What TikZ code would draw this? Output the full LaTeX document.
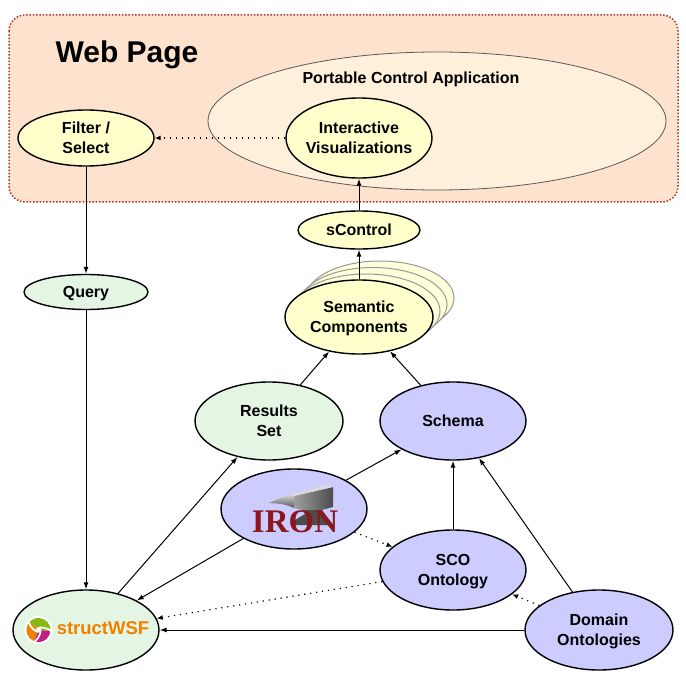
\documentclass[tikz,border=0pt]{standalone}
\usepackage{fontspec}
\setmainfont{Liberation Sans}
\newfontfamily\ironfont{Liberation Serif}
\usetikzlibrary{shapes.geometric,arrows.meta}

\definecolor{pagefill}{RGB}{253,226,205}
\definecolor{pageline}{RGB}{178,50,50}
\definecolor{appfill}{RGB}{254,240,218}
\definecolor{yel}{RGB}{255,255,204}
\definecolor{yelback}{RGB}{255,255,218}
\definecolor{grn}{RGB}{228,245,228}
\definecolor{blu}{RGB}{204,204,255}
\definecolor{ironred}{RGB}{140,22,30}
\definecolor{wsforange}{RGB}{240,128,0}
\definecolor{wsfgreen}{RGB}{135,185,20}
\definecolor{wsfmag}{RGB}{190,30,130}

% two-line label, visually centred
\newcommand{\zl}[1]{\makebox[0pt]{\smash{\raisebox{-15.75pt}{\begin{tabular}[b]{@{}c@{}}#1\end{tabular}}}}}
% one-line label, visually centred
\newcommand{\zs}[1]{\makebox[0pt]{\smash{\raisebox{-5.75pt}{#1}}}}

\begin{document}
\begin{tikzpicture}[x=1pt,y=-1pt,
  every node/.style={font=\fontsize{16}{20}\selectfont\bfseries},
  ell/.style={ellipse,draw=black,line width=1.4pt,inner sep=0pt},
  backell/.style={ellipse,draw=gray!80,line width=1pt,fill=yelback,inner sep=0pt,minimum width=148pt,minimum height=74pt},
  arr/.style={-{Latex[length=7pt,width=5pt]},line width=1pt},
  dot/.style={-{Latex[length=6pt,width=5pt]},line width=1.2pt,dash pattern=on 1.2pt off 4.8pt}]

\useasboundingbox (0,0) rectangle (686,682);

% Web page area
\draw[fill=pagefill,draw=pageline,line width=1.5pt,dash pattern=on 1.5pt off 1.8pt,rounded corners=16pt] (9,15) rectangle (678,202);
\node[inner sep=0pt,font=\fontsize{30}{34}\selectfont\bfseries] (web) at (127,55) {Web Page};

% Portable control application
\node[ellipse,draw=gray!70!black,line width=0.8pt,fill=appfill,inner sep=0pt,minimum width=458pt,minimum height=138pt] (pca) at (437,121) {};
\node[inner sep=0pt] (pcalbl) at (411,79) {Portable Control Application};

\node[ell,fill=yel,minimum width=146pt,minimum height=80pt] (iv) at (359,138) {\zl{Interactive\\Visualizations}};
\node[ell,fill=yel,minimum width=136pt,minimum height=56pt] (fs) at (86,138) {\zl{Filter /\\Select}};

% sControl
\node[ell,fill=yel,minimum width=122pt,minimum height=38pt] (sc) at (359,230) {\zs{sControl}};

% Semantic components stack
\node[backell] (semb3) at (380,298) {};
\node[backell] (semb2) at (373,304.5) {};
\node[backell] (semb1) at (366,311) {};
\node[ell,fill=yel,minimum width=148pt,minimum height=74pt] (sem) at (359,317) {\zl{Semantic\\Components}};

% Query
\node[ell,fill=grn,minimum width=124pt,minimum height=35pt] (q) at (86,292) {\zs{Query}};

% Results set and schema
\node[ell,fill=grn,minimum width=148pt,minimum height=78pt] (rs) at (269,421) {\zl{Results\\Set}};
\node[ell,fill=blu,minimum width=146pt,minimum height=78pt] (sch) at (453,421) {\zs{Schema}};

% IRON
\node[ell,fill=blu,minimum width=146pt,minimum height=80pt] (iron) at (294,509) {};
% anvil: horn
\shade[top color=gray!30,bottom color=gray!70!black] (269,503) .. controls (278,499) .. (291,494) -- (294,497) -- (294,508) .. controls (284,504) .. (269,503) -- cycle;
% anvil: waist and base
\fill[gray!60!black] (302,509) -- (323,509) -- (320,514) -- (329,520) -- (329,525) -- (295,525) -- (295,520) -- (305,514) -- cycle;
% anvil: front face
\shade[left color=gray!75,right color=gray!60!black] (294,496) -- (333,487) -- (333,507) -- (322,510) -- (302,510) -- (294,508) -- cycle;
% anvil: top face
\fill[gray!30] (291,494) -- (327,485) -- (333,487) -- (294,496) -- cycle;
\fill[gray!85!black] (321,491) circle (0.9);
\node[inner sep=0pt,text=ironred,font=\ironfont\bfseries\fontsize{33}{33}\selectfont] (irontext) at (295,522) {IRON};

% SCO and domain
\node[ell,fill=blu,minimum width=146pt,minimum height=80pt] (sco) at (453,570) {\zl{SCO\\Ontology}};
\node[ell,fill=blu,minimum width=148pt,minimum height=80pt] (dom) at (599,630) {\zl{Domain\\Ontologies}};

% structWSF
\node[ell,fill=grn,minimum width=146pt,minimum height=80pt] (wsf) at (86,630) {};
\begin{scope}[shift={(38.5,630)},yscale=-1]
  \fill[white] (0,0) circle (14);
  \fill[wsfgreen] (0,0) -- (-5:12) arc[start angle=-5,end angle=140,radius=12] -- cycle;
  \fill[wsforange] (0,0) -- (140:12) arc[start angle=140,end angle=250,radius=12] -- cycle;
  \fill[wsfmag] (0,0) -- (250:12) arc[start angle=250,end angle=355,radius=12] -- cycle;
  \foreach \a in {-5,140,250}{
    \draw[white,line width=1.8pt] (\a+120:2) .. controls (\a+60:4) and (\a+20:9) .. (\a:13);
  }
  \fill[white] (0,0) circle (2.5);
\end{scope}
\node[inner sep=0pt,text=wsforange,font=\fontsize{18.5}{22}\selectfont\bfseries] (wsftext) at (103,628.5) {structWSF};

% Connectors
\draw[dot] (iv) -- (fs);
\draw[arr] (sc) -- (iv);
\draw[arr] (sem) -- (sc);
\draw[arr] (fs) -- (q);
\draw[arr] (q) -- (wsf);
\draw[arr] (rs) -- (sem);
\draw[arr] (sch) -- (sem);
\draw[arr] (wsf) -- (rs);
\draw[arr] (iron) -- (wsf);
\draw[arr] (iron) -- (sch);
\draw[dot] (iron) -- (sco);
\draw[dot] (sco) -- (wsf);
\draw[arr] (sco) -- (sch);
\draw[arr] (dom) -- (sch);
\draw[dot] (dom) -- (sco);
\draw[arr] (dom) -- (wsf);
\end{tikzpicture}
\end{document}
